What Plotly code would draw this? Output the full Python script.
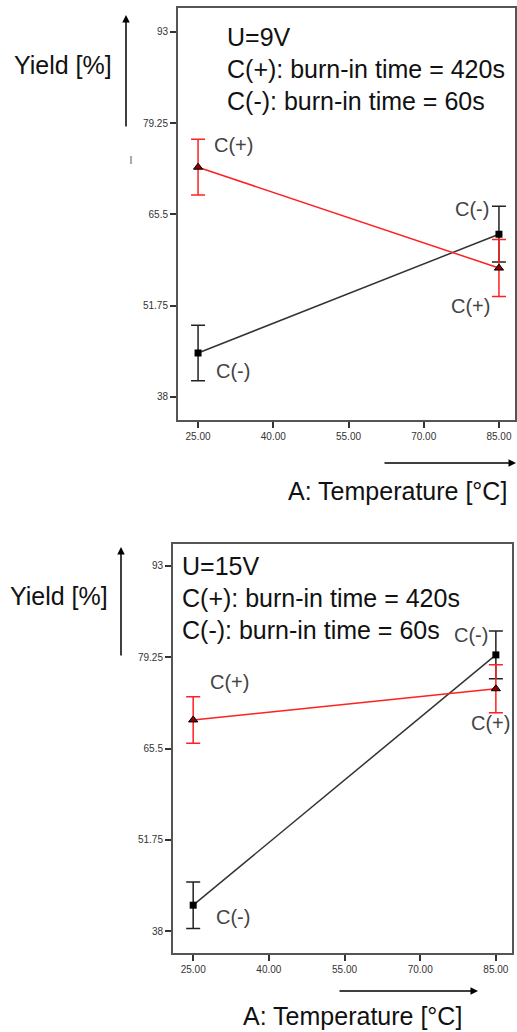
import plotly.graph_objects as go

# ---------------- data ----------------
temps = [25, 85]
x_tickvals = [25, 40, 55, 70, 85]
x_ticktext = ["25.00", "40.00", "55.00", "70.00", "85.00"]
y_tickvals = [38, 51.75, 65.5, 79.25, 93]
y_ticktext = ["38", "51.75", "65.5", "79.25", "93"]

top_cplus = [72.6, 57.4]
top_cplus_err = [4.2, 4.3]
top_cminus = [44.6, 62.5]
top_cminus_err = [4.2, 4.2]

bot_cplus = [69.8, 74.5]
bot_cplus_err = [3.5, 3.6]
bot_cminus = [41.9, 79.6]
bot_cminus_err = [3.5, 3.6]

W, H = 517, 1032
FONT = "Liberation Sans, Arial, sans-serif"


def px(x):
    return x / W


def py(y):
    return 1 - y / H


fig = go.Figure()


def add_pair(cplus, cplus_err, cminus, cminus_err, xa, ya):
    fig.add_trace(go.Scatter(
        x=temps, y=cminus, mode="lines+markers", xaxis=xa, yaxis=ya,
        line=dict(color="#333333", width=1.5),
        marker=dict(symbol="square", size=7, color="#000000"),
        error_y=dict(type="data", array=cminus_err, visible=True,
                     color="#222222", thickness=1.5, width=7),
        showlegend=False, hoverinfo="skip"))
    fig.add_trace(go.Scatter(
        x=temps, y=cplus, mode="lines+markers", xaxis=xa, yaxis=ya,
        line=dict(color="#ff2020", width=1.5),
        marker=dict(symbol="triangle-up", size=8, color="#8b0000",
                    line=dict(color="#000000", width=1)),
        error_y=dict(type="data", array=cplus_err, visible=True,
                     color="#ff2020", thickness=1.5, width=7),
        showlegend=False, hoverinfo="skip"))


add_pair(top_cplus, top_cplus_err, top_cminus, top_cminus_err, "x", "y")
add_pair(bot_cplus, bot_cplus_err, bot_cminus, bot_cminus_err, "x2", "y2")

axis_common = dict(
    showgrid=False, zeroline=False, showline=True, linecolor="#555555",
    linewidth=2, mirror=True, ticks="outside", ticklen=6, tickwidth=1.5,
    tickcolor="#333333", tickfont=dict(family=FONT, size=10, color="#333333"),
)

fig.update_layout(
    width=W, height=H,
    margin=dict(l=0, r=0, t=0, b=0),
    paper_bgcolor="white", plot_bgcolor="white",
    xaxis=dict(domain=[px(178), px(515)], range=[21, 88.2], anchor="y",
               tickvals=x_tickvals, ticktext=x_ticktext, **axis_common),
    yaxis=dict(domain=[py(420), py(8)], range=[34.5, 96.6], anchor="x",
               tickvals=y_tickvals, ticktext=y_ticktext, **axis_common),
    xaxis2=dict(domain=[px(173), px(512)], range=[21, 88.2], anchor="y2",
                tickvals=x_tickvals, ticktext=x_ticktext, **axis_common),
    yaxis2=dict(domain=[py(953), py(544)], range=[34.7, 96.3], anchor="x2",
                tickvals=y_tickvals, ticktext=y_ticktext, **axis_common),
)

ann = []


def text(t, x, y, size=25, anchor="left", color="#111111"):
    ann.append(dict(text=t, x=px(x), y=py(y), xref="paper", yref="paper",
                    xanchor=anchor, yanchor="middle", showarrow=False,
                    font=dict(family=FONT, size=size, color=color)))


def arrow(x0, y0, x1, y1):
    # arrow head at (x1, y1), tail at (x0, y0)
    ann.append(dict(text="", x=px(x1), y=py(y1), xref="paper", yref="paper",
                    ax=x0 - x1, ay=y0 - y1, showarrow=True, arrowhead=2,
                    arrowsize=1, arrowwidth=1.5, arrowcolor="#000000"))


def plabel(t, xv, yv, xs, ys, xa, ya):
    ann.append(dict(text=t, x=xv, y=yv, xref=xa, yref=ya, xshift=xs, yshift=ys,
                    showarrow=False, xanchor="center", yanchor="middle",
                    font=dict(family=FONT, size=20, color="#444444")))


# top chart texts
text("U=9V", 225, 37)
text("C(+): burn-in time = 420s", 225, 69)
text("C(-): burn-in time = 60s", 225, 101)
text("Yield [%]", 12, 65)
arrow(126, 128, 126, 15)
text("A: Temperature [°C]", 397, 491, anchor="center")
arrow(383, 463, 516, 463)

# bottom chart texts
text("U=15V", 180, 566)
text("C(+): burn-in time = 420s", 180, 598)
text("C(-): burn-in time = 60s", 180, 630)
text("Yield [%]", 8, 596)
arrow(121, 657, 121, 547)
text("A: Temperature [°C]", 352, 1016, anchor="center")
arrow(338, 991, 478, 991)

# point labels (anchored at data points)
plabel("C(+)", temps[0], top_cplus[0], 35, 22, "x", "y")
plabel("C(-)", temps[0], top_cminus[0], 35, -18, "x", "y")
plabel("C(-)", temps[1], top_cminus[1], -27, 25, "x", "y")
plabel("C(+)", temps[1], top_cplus[1], -28, -38, "x", "y")

plabel("C(+)", temps[0], bot_cplus[0], 36, 38, "x2", "y2")
plabel("C(-)", temps[0], bot_cminus[0], 40, -12, "x2", "y2")
plabel("C(-)", temps[1], bot_cminus[1], -25, 20, "x2", "y2")
plabel("C(+)", temps[1], bot_cplus[1], -5, -34, "x2", "y2")

fig.update_layout(annotations=ann)

# small stray tick mark beside the top y label
fig.add_shape(type="line", xref="paper", yref="paper",
              x0=px(131), x1=px(131), y0=py(156), y1=py(164),
              line=dict(color="#555555", width=1))

fig.write_html(
    "out.html",
    config={"displayModeBar": False},
    post_script="document.body.style.margin='0';"
                "document.body.style.overflow='hidden';",
)
